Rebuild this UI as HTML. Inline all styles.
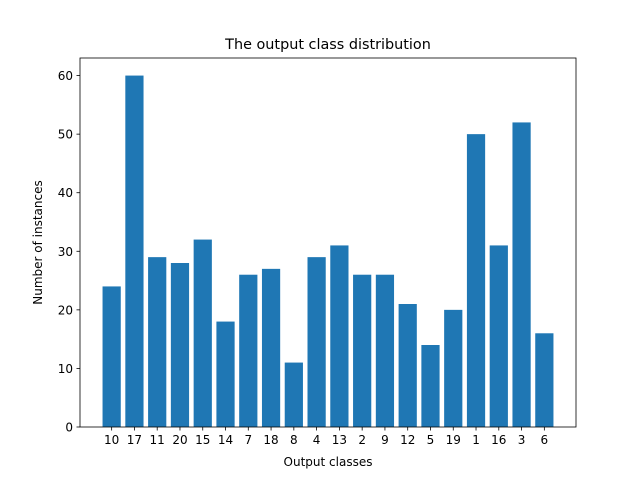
<!DOCTYPE html>
<html><head><meta charset="utf-8"><style>
body{margin:0;background:#fff}
svg text{font-family:"DejaVu Sans","Liberation Sans",sans-serif;fill:#000}
</style></head><body>
<svg id="chart" width="640" height="480" xmlns="http://www.w3.org/2000/svg">
<rect width="640" height="480" fill="#fff"/>
<text x="328" y="49" font-size="14.4" text-anchor="middle">The output class distribution</text>
<g id="bars"></g>
<g id="axes"></g>
<text x="328" y="466" font-size="12" text-anchor="middle">Output classes</text>
<text x="0" y="0" font-size="12" text-anchor="middle" transform="translate(42,242.5) rotate(-90)">Number of instances</text>
</svg>
<script>
const categories=["10","17","11","20","15","14","7","18","8","4","13","2","9","12","5","19","1","16","3","6"];
const counts=[24,60,29,28,32,18,26,27,11,29,31,26,26,21,14,20,50,31,52,16];
const yTicks=[0,10,20,30,40,50,60];
const L=80,R=576,T=58,B=427;
const n=categories.length;
const ymax=Math.max(...counts)*1.05;
const xmin=-0.4-(n-0.2)*0.05, xmax=n-1+0.4+(n-0.2)*0.05;
const xs=v=>L+(v-xmin)/(xmax-xmin)*(R-L);
const ys=v=>B-v/ymax*(B-T);
const NS="http://www.w3.org/2000/svg";
const bars=document.getElementById('bars'), axes=document.getElementById('axes');
function mk(tag,attrs,parent){const e=document.createElementNS(NS,tag);for(const k in attrs)e.setAttribute(k,attrs[k]);parent.appendChild(e);return e;}
counts.forEach((c,i)=>{
  const r=mk('rect',{x:xs(i-0.4),y:ys(c),width:xs(i+0.4)-xs(i-0.4),height:B-ys(c),fill:'#1f77b4'},bars);
  
  
  const t=mk('line',{x1:xs(i),x2:xs(i),y1:B,y2:B+3.5,stroke:'#000','stroke-width':0.8},axes);
  
  
  const lb=mk('text',{x:xs(i),y:B+17,'font-size':12,'text-anchor':'middle'},axes);
  lb.textContent=categories[i];
  
  
});
yTicks.forEach(v=>{
  const t=mk('line',{x1:L-3.5,x2:L,y1:ys(v),y2:ys(v),stroke:'#000','stroke-width':0.8},axes);
  
  
  const lb=mk('text',{x:L-7,y:ys(v)+4.5,'font-size':12,'text-anchor':'end'},axes);
  lb.textContent=v;
  
  
});
const fr=mk('rect',{x:L,y:T,width:R-L,height:B-T,fill:'none',stroke:'#000','stroke-width':0.8},axes);


</script>
</body></html>
